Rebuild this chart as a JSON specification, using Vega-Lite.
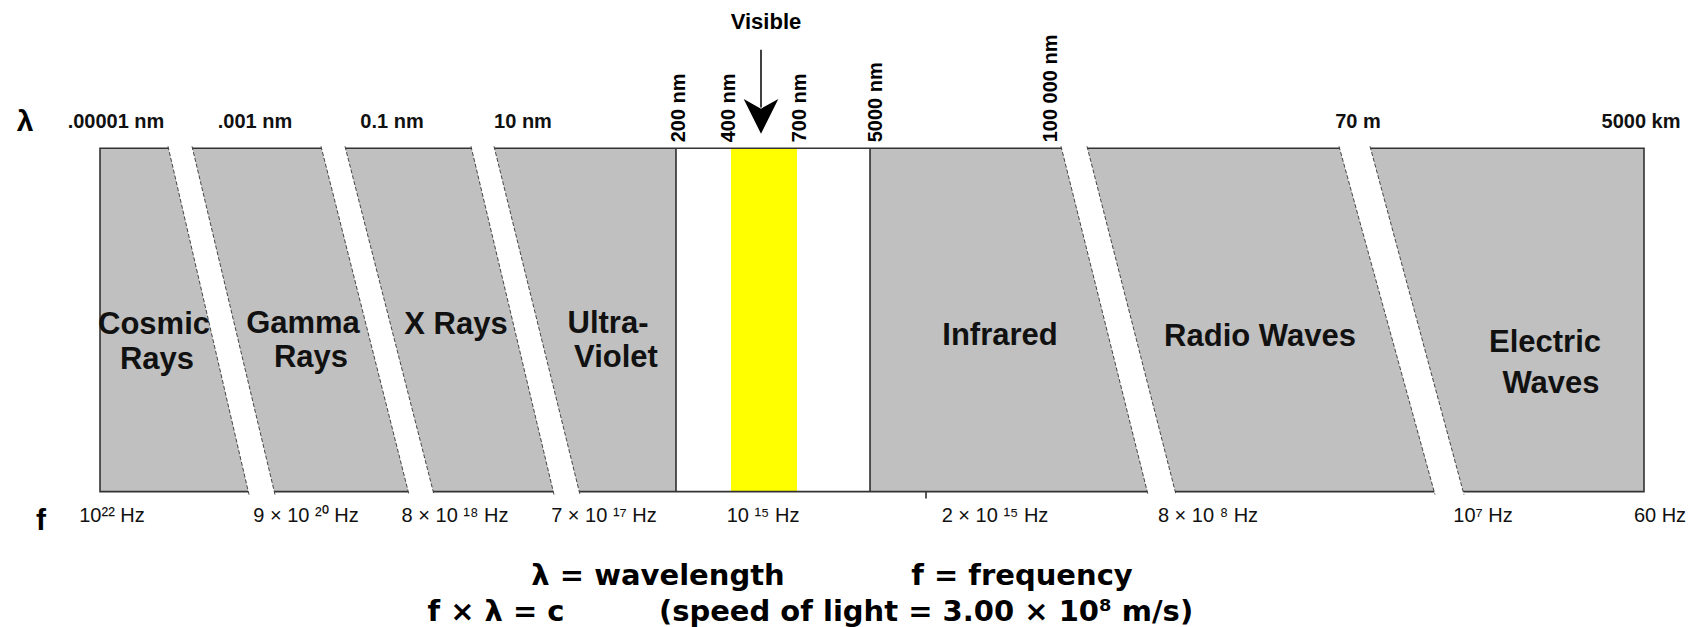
{
  "$schema": "https://vega.github.io/schema/vega-lite/v6.json",
  "width": 1704,
  "height": 627,
  "autosize": {"type": "fit", "contains": "padding"},
  "padding": 0,
  "background": "white",
  "config": {"view": {"stroke": null}},
  "datasets": {
    "regions": [
      {"part": "box", "x0": 100, "x1": 1644, "y0": 149, "y1": 494},
      {"part": "gap", "x0": 676, "x1": 870, "y0": 149, "y1": 494},
      {"part": "visible", "x0": 731, "x1": 797, "y0": 149, "y1": 494}
    ],
    "dividers": [
      {"x": 676, "y0": 149, "y1": 494},
      {"x": 870, "y0": 149, "y1": 494},
      {"x": 926, "y0": 494, "y1": 501}
    ],
    "bands": [
      {"band": 1, "y": 147, "xl": 168, "xr": 192},
      {"band": 1, "y": 497, "xl": 249, "xr": 275},
      {"band": 2, "y": 147, "xl": 321, "xr": 345},
      {"band": 2, "y": 497, "xl": 409, "xr": 434},
      {"band": 3, "y": 147, "xl": 471, "xr": 494},
      {"band": 3, "y": 497, "xl": 554, "xr": 580},
      {"band": 4, "y": 147, "xl": 1061, "xr": 1087},
      {"band": 4, "y": 497, "xl": 1148, "xr": 1176},
      {"band": 5, "y": 147, "xl": 1339, "xr": 1370},
      {"band": 5, "y": 497, "xl": 1435, "xr": 1464}
    ],
    "arrowShaft": [{"x": 761, "y0": 50, "y1": 108}],
    "arrowHead": [{"x": 761, "y": 117}],
    "labels": [
      {"group": "sym", "text": "λ", "x": 25, "y": 123},
      {"group": "sym", "text": "f", "x": 41, "y": 524},
      {"group": "wl", "text": ".00001 nm", "x": 116, "y": 123},
      {"group": "wl", "text": ".001 nm", "x": 255, "y": 123},
      {"group": "wl", "text": "0.1 nm", "x": 392, "y": 123},
      {"group": "wl", "text": "10 nm", "x": 523, "y": 123},
      {"group": "wl", "text": "70 m", "x": 1358, "y": 123},
      {"group": "wl", "text": "5000 km", "x": 1641, "y": 123},
      {"group": "rot", "text": "200 nm", "x": 679, "y": 143},
      {"group": "rot", "text": "400 nm", "x": 729, "y": 143},
      {"group": "rot", "text": "700 nm", "x": 800, "y": 143},
      {"group": "rot", "text": "5000 nm", "x": 876, "y": 143},
      {"group": "rot", "text": "100 000 nm", "x": 1051, "y": 143},
      {"group": "visible", "text": "Visible", "x": 766, "y": 22},
      {"group": "band", "text": "Cosmic", "x": 154, "y": 327},
      {"group": "band", "text": "Rays", "x": 157, "y": 362},
      {"group": "band", "text": "Gamma", "x": 303, "y": 326},
      {"group": "band", "text": "Rays", "x": 311, "y": 360},
      {"group": "band", "text": "X Rays", "x": 456, "y": 327},
      {"group": "band", "text": "Ultra-", "x": 608, "y": 326},
      {"group": "band", "text": "Violet", "x": 616, "y": 360},
      {"group": "band", "text": "Infrared", "x": 1000, "y": 338},
      {"group": "band", "text": "Radio Waves", "x": 1260, "y": 339},
      {"group": "band", "text": "Electric", "x": 1545, "y": 345},
      {"group": "band", "text": "Waves", "x": 1551, "y": 386},
      {"group": "hz", "text": "10²² Hz", "x": 112, "y": 518},
      {"group": "hz", "text": "9 × 10 ²⁰ Hz", "x": 306, "y": 518},
      {"group": "hz", "text": "8 × 10 ¹⁸ Hz", "x": 455, "y": 518},
      {"group": "hz", "text": "7 × 10 ¹⁷ Hz", "x": 604, "y": 518},
      {"group": "hz", "text": "10 ¹⁵ Hz", "x": 763, "y": 518},
      {"group": "hz", "text": "2 × 10 ¹⁵ Hz", "x": 995, "y": 518},
      {"group": "hz", "text": "8 × 10 ⁸ Hz", "x": 1208, "y": 518},
      {"group": "hz", "text": "10⁷ Hz", "x": 1483, "y": 518},
      {"group": "hz", "text": "60 Hz", "x": 1660, "y": 518},
      {"group": "formula", "text": "λ = wavelength", "x": 658, "y": 588},
      {"group": "formula", "text": "f = frequency", "x": 1022, "y": 588},
      {"group": "formula", "text": "f × λ = c", "x": 496, "y": 624},
      {"group": "formula", "text": "(speed of light = 3.00 × 10⁸ m/s)", "x": 926, "y": 624}
    ]
  },
  "layer": [
    {
      "data": {"name": "regions"},
      "mark": {"type": "rect"},
      "encoding": {
        "x": {"field": "x0", "type": "quantitative", "scale": {"domain": [0, 1704], "nice": false, "zero": false}, "axis": null},
        "x2": {"field": "x1"},
        "y": {"field": "y0", "type": "quantitative", "scale": {"domain": [0, 627], "nice": false, "zero": false, "reverse": true}, "axis": null},
        "y2": {"field": "y1"},
        "color": {"field": "part", "type": "nominal", "scale": {"domain": ["box", "gap", "visible"], "range": ["#c0c0c0", "#ffffff", "#ffff00"]}, "legend": null}
      }
    },
    {
      "data": {"name": "dividers"},
      "mark": {"type": "rule", "color": "#222222", "strokeWidth": 1.5},
      "encoding": {
        "x": {"field": "x", "type": "quantitative"},
        "y": {"field": "y0", "type": "quantitative"},
        "y2": {"field": "y1"}
      }
    },
    {
      "data": {"name": "regions"},
      "transform": [{"filter": "datum.part === 'box'"}],
      "mark": {"type": "rect", "filled": false, "stroke": "#333333", "strokeWidth": 1.6},
      "encoding": {
        "x": {"field": "x0", "type": "quantitative"},
        "x2": {"field": "x1"},
        "y": {"field": "y0", "type": "quantitative"},
        "y2": {"field": "y1"}
      }
    },
    {
      "data": {"name": "bands"},
      "mark": {"type": "area", "orient": "horizontal", "color": "#ffffff", "opacity": 1},
      "encoding": {
        "y": {"field": "y", "type": "quantitative"},
        "x": {"field": "xl", "type": "quantitative"},
        "x2": {"field": "xr"},
        "detail": {"field": "band", "type": "nominal"}
      }
    },
    {
      "data": {"name": "bands"},
      "mark": {"type": "line", "color": "#333333", "strokeWidth": 0.9, "strokeDash": [4, 2]},
      "encoding": {
        "y": {"field": "y", "type": "quantitative"},
        "x": {"field": "xl", "type": "quantitative"},
        "detail": {"field": "band", "type": "nominal"}
      }
    },
    {
      "data": {"name": "bands"},
      "mark": {"type": "line", "color": "#333333", "strokeWidth": 0.9, "strokeDash": [4, 2]},
      "encoding": {
        "y": {"field": "y", "type": "quantitative"},
        "x": {"field": "xr", "type": "quantitative"},
        "detail": {"field": "band", "type": "nominal"}
      }
    },
    {
      "data": {"name": "arrowShaft"},
      "mark": {"type": "rule", "color": "#000000", "strokeWidth": 1.5},
      "encoding": {
        "x": {"field": "x", "type": "quantitative"},
        "y": {"field": "y0", "type": "quantitative"},
        "y2": {"field": "y1"}
      }
    },
    {
      "data": {"name": "arrowHead"},
      "mark": {"type": "point", "shape": "M -1 -1 L 0 -0.45 L 1 -1 L 0 1 Z", "filled": true, "color": "#000000", "opacity": 1, "size": 1200},
      "encoding": {
        "x": {"field": "x", "type": "quantitative"},
        "y": {"field": "y", "type": "quantitative"}
      }
    },
    {
      "data": {"name": "labels"},
      "transform": [{"filter": "datum.group === 'sym'"}],
      "mark": {"type": "text", "font": "Liberation Sans", "fontWeight": "bold", "fontSize": 30, "align": "center", "baseline": "middle", "color": "#000000"},
      "encoding": {
        "x": {"field": "x", "type": "quantitative"},
        "y": {"field": "y", "type": "quantitative"},
        "text": {"field": "text", "type": "nominal"}
      }
    },
    {
      "data": {"name": "labels"},
      "transform": [{"filter": "datum.group === 'wl'"}],
      "mark": {"type": "text", "font": "Liberation Sans", "fontWeight": "bold", "fontSize": 20, "align": "center", "baseline": "middle", "color": "#111111"},
      "encoding": {
        "x": {"field": "x", "type": "quantitative"},
        "y": {"field": "y", "type": "quantitative"},
        "text": {"field": "text", "type": "nominal"}
      }
    },
    {
      "data": {"name": "labels"},
      "transform": [{"filter": "datum.group === 'rot'"}],
      "mark": {"type": "text", "font": "Liberation Sans", "fontWeight": "bold", "fontSize": 20, "align": "left", "baseline": "middle", "angle": 270, "color": "#000000"},
      "encoding": {
        "x": {"field": "x", "type": "quantitative"},
        "y": {"field": "y", "type": "quantitative"},
        "text": {"field": "text", "type": "nominal"}
      }
    },
    {
      "data": {"name": "labels"},
      "transform": [{"filter": "datum.group === 'visible'"}],
      "mark": {"type": "text", "font": "Liberation Sans", "fontWeight": "bold", "fontSize": 22, "align": "center", "baseline": "middle", "color": "#000000"},
      "encoding": {
        "x": {"field": "x", "type": "quantitative"},
        "y": {"field": "y", "type": "quantitative"},
        "text": {"field": "text", "type": "nominal"}
      }
    },
    {
      "data": {"name": "labels"},
      "transform": [{"filter": "datum.group === 'band'"}],
      "mark": {"type": "text", "font": "Liberation Sans", "fontWeight": "bold", "fontSize": 31, "align": "center", "baseline": "middle", "color": "#111111"},
      "encoding": {
        "x": {"field": "x", "type": "quantitative"},
        "y": {"field": "y", "type": "quantitative"},
        "text": {"field": "text", "type": "nominal"}
      }
    },
    {
      "data": {"name": "labels"},
      "transform": [{"filter": "datum.group === 'hz'"}],
      "mark": {"type": "text", "font": "Liberation Sans", "fontSize": 20, "align": "center", "baseline": "middle", "color": "#111111"},
      "encoding": {
        "x": {"field": "x", "type": "quantitative"},
        "y": {"field": "y", "type": "quantitative"},
        "text": {"field": "text", "type": "nominal"}
      }
    },
    {
      "data": {"name": "labels"},
      "transform": [{"filter": "datum.group === 'formula'"}],
      "mark": {"type": "text", "font": "DejaVu Sans", "fontWeight": "bold", "fontSize": 29, "align": "center", "baseline": "alphabetic", "color": "#000000"},
      "encoding": {
        "x": {"field": "x", "type": "quantitative"},
        "y": {"field": "y", "type": "quantitative"},
        "text": {"field": "text", "type": "nominal"}
      }
    }
  ]
}
